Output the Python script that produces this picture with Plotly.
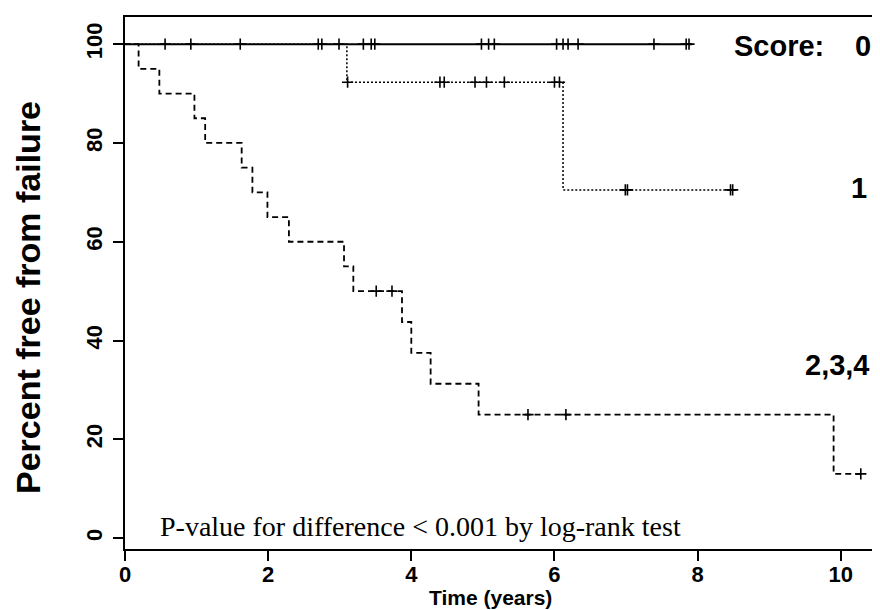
import plotly.graph_objects as go

# ---- data ----
score0_times = [0.0, 7.92]
score0_surv = [100, 100]
score0_censor = [0.56, 0.92, 1.61, 2.70, 2.75, 2.99, 3.33, 3.44, 3.49, 4.98, 5.08, 5.16,
                 6.03, 6.12, 6.19, 6.33, 7.39, 7.84, 7.88]

score1_times = [0.0, 3.10, 6.12, 8.50]
score1_surv = [100, 92.3, 70.5, 70.5]
score1_censor = [3.11, 4.40, 4.46, 4.89, 5.05, 5.30, 6.00, 6.07, 6.99, 7.02, 8.46, 8.49]

score234_times = [0.0, 0.19, 0.48, 0.97, 1.12, 1.63, 1.78, 1.99, 2.29, 3.06, 3.19,
                  3.87, 4.00, 4.27, 4.94, 9.90, 10.28]
score234_surv = [100, 95, 90, 85, 80, 75, 70, 65, 60, 55, 50,
                 43.75, 37.5, 31.25, 25, 13.0, 13.0]
score234_censor = [3.51, 3.73, 5.63, 6.16, 10.28]

x_ticks = [0, 2, 4, 6, 8, 10]
y_ticks = [0, 20, 40, 60, 80, 100]


def step_value(times, surv, t):
    v = surv[0]
    for ti, si in zip(times, surv):
        if ti <= t:
            v = si
    return v


fig = go.Figure()

curves = [
    (score0_times, score0_surv, score0_censor, "solid", 2.0),
    (score1_times, score1_surv, score1_censor, "2px,2px", 1.5),
    (score234_times, score234_surv, score234_censor, "6px,4px", 1.8),
]
for times, surv, cens, dash, w in curves:
    fig.add_trace(go.Scatter(x=times, y=surv, mode="lines", line_shape="hv",
                             line=dict(color="black", width=w, dash=dash),
                             showlegend=False, hoverinfo="skip"))
    fig.add_trace(go.Scatter(x=cens, y=[step_value(times, surv, c) for c in cens],
                             mode="markers",
                             marker=dict(symbol="cross-thin", size=8,
                                         line=dict(color="black", width=1.6)),
                             showlegend=False, hoverinfo="skip"))

tick_font = dict(family="Liberation Sans, Arial", size=22, color="black", weight="bold")
ann_font = dict(family="Liberation Sans, Arial", size=29, color="black", weight="bold")

fig.add_annotation(x=9.79, y=99.6, text="Score:", showarrow=False, xanchor="right",
                   yanchor="middle", font=ann_font)
fig.add_annotation(x=10.31, y=99.6, text="0", showarrow=False, xanchor="center",
                   yanchor="middle", font=ann_font)
fig.add_annotation(x=10.26, y=70.8, text="1", showarrow=False, xanchor="center",
                   yanchor="middle", font=ann_font)
fig.add_annotation(x=9.95, y=35.0, text="2,3,4", showarrow=False, xanchor="center",
                   yanchor="middle", font=ann_font)
fig.add_annotation(x=0.46, y=2.3, text="P-value for difference < 0.001 by log-rank test",
                   showarrow=False, xanchor="left", yanchor="middle",
                   font=dict(family="Liberation Serif, Times New Roman", size=28, color="black"))
fig.add_annotation(x=5.11, y=-0.092, xref="x", yref="paper", text="Time (years)",
                   showarrow=False, xanchor="center", yanchor="middle",
                   font=dict(family="Liberation Sans, Arial", size=21, color="black", weight="bold"))
fig.add_annotation(x=-0.127, y=0.472, xref="paper", yref="paper",
                   text="Percent free from failure", textangle=-90,
                   showarrow=False, xanchor="center", yanchor="middle",
                   font=dict(family="Liberation Sans, Arial", size=34, color="black", weight="bold"))

axis_common = dict(showgrid=False, zeroline=False, showline=True, linecolor="black",
                   linewidth=2, ticks="outside", ticklen=10, tickwidth=1.5,
                   tickcolor="black", tickfont=tick_font)
fig.update_xaxes(range=[0, 10.66], tickvals=x_ticks, mirror=True,
                 ticklabelstandoff=-5, **axis_common)
fig.update_yaxes(range=[-2.2, 105.5], tickvals=y_ticks, tickangle=-90,
                 ticklabelstandoff=2, **axis_common)

fig.update_layout(width=880, height=610, margin=dict(l=117, r=0, t=9, b=69),
                  paper_bgcolor="white", plot_bgcolor="white")

fig.write_html("out.html")
